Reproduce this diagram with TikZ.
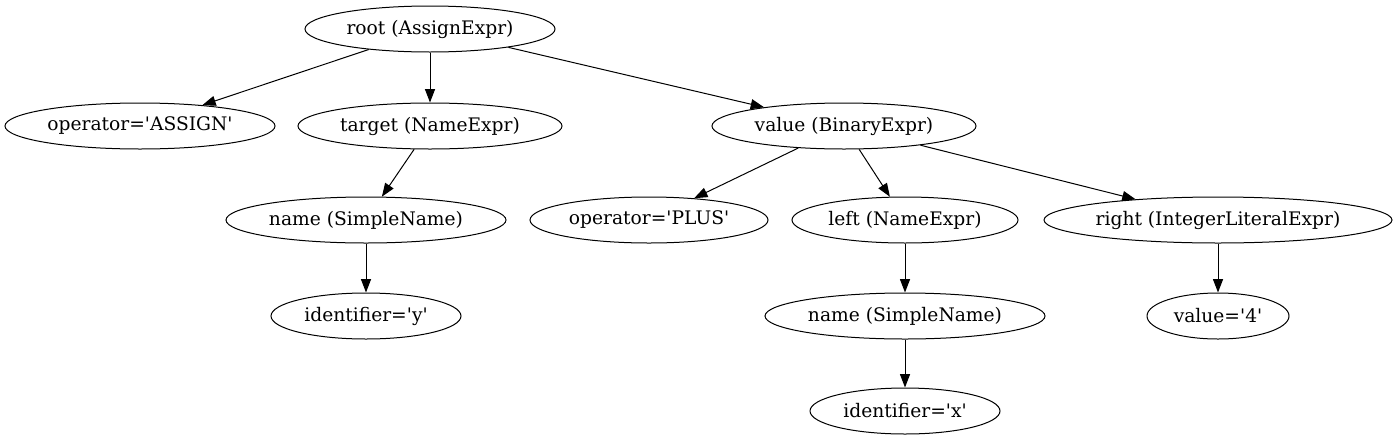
\documentclass[tikz,border=0pt]{standalone}
\usepackage{fontspec}
\setmainfont{DejaVu Serif}[Ligatures=TeXOff]
\usetikzlibrary{shapes.geometric,arrows.meta}
\begin{document}
\begin{tikzpicture}[x=0.75pt,y=-0.75pt,
  nd/.style={draw,ellipse,inner sep=0pt,minimum height=34.5pt,line width=0.75pt,font=\fontsize{14pt}{16pt}\selectfont},
  edge/.style={-{Triangle[length=10pt,width=7.5pt]},line width=0.75pt}]
\useasboundingbox (0,0) rectangle (1398,443);
\node[nd,minimum width=187.5pt] (root) at (430,29) {root (AssignExpr)};
\node[nd,minimum width=202.5pt] (opA) at (140,126) {operator='ASSIGN'};
\node[nd,minimum width=198pt] (target) at (430,126) {target (NameExpr)};
\node[nd,minimum width=198pt] (value) at (844,126) {value (BinaryExpr)};
\node[nd,minimum width=210pt] (nameL) at (366,220) {name (SimpleName)};
\node[nd,minimum width=142.5pt] (idy) at (366,316) {identifier='y'};
\node[nd,minimum width=178.5pt] (opP) at (649,220) {operator='PLUS'};
\node[nd,minimum width=169.5pt] (left) at (905,220) {left (NameExpr)};
\node[nd,minimum width=261pt] (right) at (1218,220) {right (IntegerLiteralExpr)};
\node[nd,minimum width=210pt] (nameR) at (905,316) {name (SimpleName)};
\node[nd,minimum width=106.5pt] (v4) at (1218,316) {value='4'};
\node[nd,minimum width=142.5pt] (idx) at (905,411) {identifier='x'};
\draw[edge] (root) -- (opA);
\draw[edge] (root) -- (target);
\draw[edge] (root) -- (value);
\draw[edge] (target) -- (nameL);
\draw[edge] (nameL) -- (idy);
\draw[edge] (value) -- (opP);
\draw[edge] (value) -- (left);
\draw[edge] (value) -- (right);
\draw[edge] (left) -- (nameR);
\draw[edge] (nameR) -- (idx);
\draw[edge] (right) -- (v4);
\end{tikzpicture}
\end{document}
